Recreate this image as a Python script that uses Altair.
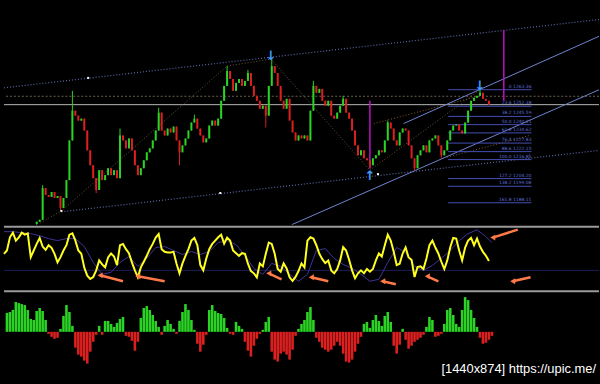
import altair as alt
import pandas as pd

# ---------------- data ----------------
# candle closes (price), first visible candle is bar 11
first_bar = 11
first_open = 1174.0
closes = [
    1175.5, 1176.8, 1197.9, 1193.3, 1192.0, 1195.3, 1191.3, 1192.6, 1184.7, 1191.3,
    1203.2, 1229.6, 1249.4, 1246.1, 1242.8, 1244.1, 1236.2, 1223.0, 1213.1, 1204.5,
    1196.6, 1209.8, 1203.2, 1206.5, 1211.1, 1206.5, 1209.8, 1204.5, 1232.9, 1229.6,
    1224.3, 1230.9, 1223.0, 1213.1, 1206.5, 1211.1, 1216.4, 1221.7, 1224.3, 1229.6,
    1236.2, 1248.1, 1236.2, 1232.9, 1237.5, 1234.9, 1238.8, 1229.6, 1221.7, 1226.3,
    1230.9, 1236.2, 1241.5, 1244.1, 1237.5, 1232.9, 1228.3, 1230.9, 1239.5, 1242.8,
    1239.5, 1244.1, 1256.0, 1265.9, 1275.8, 1270.5, 1262.6, 1267.9, 1270.5, 1265.9,
    1269.2, 1274.5, 1265.9, 1259.3, 1256.0, 1250.7, 1252.7, 1246.1, 1265.9, 1279.1,
    1274.5, 1265.9, 1256.0, 1250.7, 1257.3, 1242.8, 1234.9, 1229.6, 1232.9, 1230.9,
    1232.9, 1229.6, 1249.4, 1265.9, 1261.3, 1263.9, 1256.0, 1252.7, 1256.0, 1246.1,
    1244.1, 1248.1, 1252.7, 1257.3, 1248.1, 1244.1, 1236.2, 1226.3, 1219.7, 1223.0,
    1217.7, 1216.4, 1213.1, 1217.7, 1219.7, 1223.0, 1221.7, 1229.6, 1241.5, 1237.5,
    1229.6, 1226.3, 1234.9, 1237.5, 1236.2, 1226.3, 1217.7, 1211.1, 1219.7, 1223.0,
    1226.3, 1221.7, 1229.6, 1230.9, 1232.9, 1226.3, 1219.7, 1223.0, 1229.6, 1236.2,
    1239.5, 1240.2, 1236.2, 1234.2, 1241.5, 1249.4, 1256.0, 1258.0, 1259.3, 1261.3,
    1257.3, 1256.0, 1253.4,
]
high_marks = {2: 1199.9, 12: 1262.6, 28: 1237.5, 41: 1251.4, 53: 1246.8, 64: 1279.1,
              71: 1276.5, 79: 1283.7, 93: 1269.2, 103: 1259.3, 118: 1242.8, 149: 1263.9}
low_marks = {0: 1173.5, 8: 1182.7, 20: 1194.6, 48: 1213.1, 77: 1238.2, 112: 1211.1,
             127: 1209.8, 136: 1217.7}

bid_price = 1253.4
ask_price = 1259.0

fib_pct = ["0", "23.6", "38.2", "50.0", "61.8", "76.4", "88.6", "100.0", "127.2", "138.2", "161.8"]
fib_price = [1263.36, 1252.38, 1245.59, 1240.11, 1234.62, 1227.83, 1222.15, 1216.85,
             1204.20, 1199.08, 1188.11]
fib_from, fib_to = 149.3, 177.3

# trend / channel lines: (segment, bar, price)
channel_dotted = [("up", 0, 1264.6), ("up", 200, 1310.1),
                  ("lo", 19.3, 1182.1), ("lo", 200, 1223.0)]
channel_solid = [("b", 96.7, 1173.5), ("b", 200, 1263.3),
                 ("c", 134.3, 1240.8), ("c", 200, 1298.9)]
orange_dotted = [("a", 124.3, 1240.8), ("a", 160, 1259.3),
                 ("b", 149, 1218.4), ("b", 176.7, 1232.9)]
zigzag_t = [12.3, 19.3, 75, 89.7, 123, 160]
zigzag_p = [1174.8, 1182.7, 1279.1, 1283.7, 1209.8, 1263.3]

magenta_t = [123, 168]
magenta_lo = [1211.0, 1256.0]
magenta_hi = [1256.0, 1302.9]

arrow_t = [89.7, 160, 123]
arrow_p = [1286.0, 1265.5, 1206.0]
arrow_s = ["↓", "↓", "↑"]

dot_t = [28.3, 72.7, 19.3, 125.7]
dot_p = [1271.2, 1194.6, 1182.7, 1207.2]

# oscillator (yellow) per bar 0..163
osc = [
    55, 60, 80, 87, 75, 80, 87, 84, 86, 50,
    60, 70, 79, 66, 61, 68, 64, 55, 42, 50,
    60, 68, 84, 86, 75, 60, 55, 34, 22, 17,
    20, 30, 45, 39, 34.5, 49.5, 55.5, 51, 38, 68,
    70, 62, 56, 42, 30, 19.5, 34.5, 43, 52, 62,
    70, 79.5, 85, 62, 58, 57, 57, 58, 40, 25.5,
    40.5, 52, 62, 75, 79, 68, 38, 30, 48, 62,
    70, 75, 80, 84, 70.5, 79.5, 75, 60, 56, 52,
    56, 55, 40, 29, 25.5, 19.5, 40.5, 36, 55, 72,
    70, 55, 32, 28, 40.5, 33, 19.5, 14, 20, 29,
    40.5, 34.5, 75, 80, 78, 68, 55, 47, 41, 45,
    30, 25.5, 32, 45, 65, 60, 46, 30, 18, 25.5,
    30, 25.5, 32, 28, 32, 45, 55.5, 51, 68, 84,
    75, 58, 38, 40, 55.5, 64.5, 49.5, 46, 20, 35,
    36, 32, 48, 68, 75, 64.5, 55.5, 43, 32, 45,
    65, 79, 78, 60, 45, 64.5, 75, 79, 68, 78,
    66, 58, 52, 44,
]
# signal line (purple), every 3rd bar, last at bar 164
signal = [
    88.5, 88.5, 87, 85.5, 82.5, 78, 75, 78, 78, 66,
    42, 24, 27, 42, 51, 36, 48, 64.5, 66, 60,
    54, 58.5, 54, 58.5, 72, 75, 69, 52.5, 33, 24,
    40.5, 36, 24, 13.5, 24, 60, 63, 48, 39, 33,
    24, 13.5, 16.5, 42, 64.5, 57, 36, 30, 37.5, 48,
    60, 75, 85.5, 91.5, 81, 72,
]
signal_t = list(range(0, 163, 3)) + [164]
osc_level = 30

# orange annotation arrows (head -> tail) in oscillator units
oa_head_t = [32.3, 45, 89, 103.3, 127.3, 142.3, 164.3, 171]
oa_head_v = [22.5, 21, 25.5, 19.5, 13.5, 21, 79.5, 13.5]
oa_tail_t = [40, 54, 93.3, 109, 131.7, 146, 172.7, 177]
oa_tail_v = [13.5, 13.5, 16.5, 13.5, 9, 13.5, 91.5, 19.5]

# histogram, bars 1..164
hist = [
    19, 20, 22, 30, 29, 28, 27, 22, 13, 12,
    21, 24, 21, 12, -2, -5, -7, -6, 3, 16,
    27, 20, 6, -16, -23, -25, -29, -32, -20, -10,
    -3, 6, -3, 11, 11, 8, 5, 9, 13, 15,
    -4, -5, -9, -19, -10, 14, 24, 26, 22, 17,
    11, 5, -3, 6, 12, 8, 3, -2, 11, 20,
    28, 22, 12, 2, -12, -20, -13, -3, 22, 27,
    21, 19, 18, 14, 4, -2, -3, 10, 6, 3,
    -10, -19, -25, -14, -7, -2, 2, 10, 15, -20,
    -28, -30, -22, -20, -23, -28, -18, -4, 3, 8,
    12, 20, 25, 12, -6, -10, -16, -18, -20, -18,
    -14, -10, -14, -22, -30, -31, -28, -20, -12, -5,
    8, 10, 4, 12, 17, 11, 6, 16, 20, 10,
    -14, -22, -13, 3, -8, -17, -14, -10, -8, -6,
    -3, 5, 15, 12, -5, -4, -2, 8, 22, 24,
    17, 8, 5, 22, 35, 32, 22, 14, 5, -6,
    -12, -11, -8, -4,
]
watermark = ["[1440x874] https://upic.me/"]

# ---------------- styling ----------------
GREEN = "#2bd424"
RED = "#dc2020"
W = 600
xs = alt.Scale(domain=[0, 200], nice=False, zero=False, padding=0)
ys1 = alt.Scale(domain=[1173.5, 1322.0], nice=False, zero=False, padding=0)
ys2 = alt.Scale(domain=[0, 97.5], nice=False, zero=False, padding=0)
ys3 = alt.Scale(domain=[-52, 42], nice=False, zero=False, padding=0)
dir_color = alt.Color("d:N", scale=alt.Scale(domain=["up", "down"], range=[GREEN, RED]), legend=None)

# ---------------- frames ----------------
rows = []
prev = first_open
for i, c in enumerate(closes):
    o = prev
    hi = max(o, c, high_marks.get(i, -1e9))
    lo = min(o, c, low_marks.get(i, 1e9))
    rows.append(dict(t=first_bar + i, o=o, c=c, hi=hi, lo=lo, d="up" if c >= o else "down"))
    prev = c
candles = pd.DataFrame(rows)

def seg_df(lst):
    return pd.DataFrame(lst, columns=["s", "t", "p"])

X = lambda f="t": alt.X(f"{f}:Q", scale=xs, axis=None)

# ---------------- main panel ----------------
main_layers = [
    alt.Chart(pd.DataFrame({"p": [ask_price]})).mark_rule(color="#6e6250", strokeDash=[2, 2], strokeWidth=1)
    .encode(y=alt.Y("p:Q", scale=ys1, axis=None)),
    alt.Chart(pd.DataFrame({"p": [bid_price]})).mark_rule(color="#b8b8b8", strokeWidth=1)
    .encode(y=alt.Y("p:Q", scale=ys1, axis=None)),
    alt.Chart(seg_df(channel_dotted)).mark_line(color="#5d6aa6", strokeDash=[1, 2], strokeWidth=1.2, clip=True)
    .encode(x=X(), y=alt.Y("p:Q", scale=ys1, axis=None), detail="s:N"),
    alt.Chart(pd.DataFrame({"t": zigzag_t, "p": zigzag_p})).mark_line(color="#6a5838", strokeDash=[1, 2], strokeWidth=1, clip=True)
    .encode(x=X(), y=alt.Y("p:Q", scale=ys1, axis=None)),
    alt.Chart(seg_df(orange_dotted)).mark_line(color="#8a5a2a", strokeDash=[1, 2], strokeWidth=1, clip=True)
    .encode(x=X(), y=alt.Y("p:Q", scale=ys1, axis=None), detail="s:N"),
    alt.Chart(seg_df(channel_solid)).mark_line(color="#7086d0", strokeWidth=1, clip=True)
    .encode(x=X(), y=alt.Y("p:Q", scale=ys1, axis=None), detail="s:N"),
    alt.Chart(pd.DataFrame({"lab": fib_pct, "p": fib_price, "a": fib_from, "b": fib_to}))
    .mark_rule(color="#4450b8", strokeWidth=1)
    .encode(x=X("a"), x2="b:Q", y=alt.Y("p:Q", scale=ys1, axis=None)),
    alt.Chart(pd.DataFrame({"lab": [f"{a}  {b:.2f}" for a, b in zip(fib_pct, fib_price)], "p": fib_price, "b": fib_to}))
    .mark_text(color="#5f6fd6", fontSize=4.5, align="right", baseline="bottom", dy=-1, font="DejaVu Sans")
    .encode(x=X("b"), y=alt.Y("p:Q", scale=ys1, axis=None), text="lab:N"),
    alt.Chart(pd.DataFrame({"t": magenta_t, "lo": magenta_lo, "hi": magenta_hi}))
    .mark_rule(color="#c010c8", strokeWidth=1.5)
    .encode(x=X(), y=alt.Y("lo:Q", scale=ys1, axis=None), y2="hi:Q"),
    alt.Chart(candles).mark_rule(strokeWidth=1)
    .encode(x=X(), y=alt.Y("lo:Q", scale=ys1, axis=None), y2="hi:Q", color=dir_color),
    alt.Chart(candles).mark_bar(size=2)
    .encode(x=X(), y=alt.Y("o:Q", scale=ys1, axis=None), y2="c:Q", color=dir_color),
    alt.Chart(pd.DataFrame({"t": dot_t, "p": dot_p})).mark_point(shape="square", filled=True, size=4, color="white", opacity=1)
    .encode(x=X(), y=alt.Y("p:Q", scale=ys1, axis=None)),
    alt.Chart(pd.DataFrame({"t": arrow_t, "p": arrow_p, "s": arrow_s}))
    .mark_text(color="#3c9cff", fontSize=13, fontWeight="bold", font="DejaVu Sans")
    .encode(x=X(), y=alt.Y("p:Q", scale=ys1, axis=None), text="s:N"),
]
p1 = alt.layer(*main_layers).properties(width=W, height=225)

# ---------------- oscillator panel ----------------
one = pd.DataFrame({"k": [0]})
osc_df = pd.DataFrame({"t": list(range(len(osc))), "v": osc})
sig_df = pd.DataFrame({"t": signal_t, "v": signal})
oa_df = pd.DataFrame({"ht": oa_head_t, "hv": oa_head_v, "tt": oa_tail_t, "tv": oa_tail_v})
osc_layers = [
    alt.Chart(pd.DataFrame({"v": [osc_level]})).mark_rule(color="#1e1e58", strokeWidth=1)
    .encode(y=alt.Y("v:Q", scale=ys2, axis=None)),
    alt.Chart(sig_df).mark_line(color="#40349a", strokeWidth=1)
    .encode(x=X(), y=alt.Y("v:Q", scale=ys2, axis=None)),
    alt.Chart(osc_df).mark_line(color="#ffff20", strokeWidth=2)
    .encode(x=X(), y=alt.Y("v:Q", scale=ys2, axis=None)),
    alt.Chart(oa_df).mark_rule(color="#ff7a48", strokeWidth=2.5)
    .encode(x=X("ht"), x2="tt:Q", y=alt.Y("hv:Q", scale=ys2, axis=None), y2="tv:Q"),
    alt.Chart(oa_df).mark_point(shape="triangle-left", filled=True, size=35, color="#ff7a48", opacity=1)
    .encode(x=X("ht"), y=alt.Y("hv:Q", scale=ys2, axis=None)),
    alt.Chart(one).mark_rule(color="#9a9a9a", strokeWidth=2)
    .encode(y=alt.value(1), x=alt.value(0), x2=alt.value(W)),
]
p2 = alt.layer(*osc_layers).properties(width=W, height=65)

# ---------------- histogram panel ----------------
hist_df = pd.DataFrame({"t": [k + 1 for k in range(len(hist))], "h": hist,
                        "d": ["up" if h >= 0 else "down" for h in hist], "z": 0})
hist_layers = [
    alt.Chart(hist_df).mark_bar(size=2.6)
    .encode(x=X(), y=alt.Y("h:Q", scale=ys3, axis=None), y2="z:Q", color=dir_color),
    alt.Chart(one).mark_rule(color="#9a9a9a", strokeWidth=2)
    .encode(y=alt.value(1), x=alt.value(0), x2=alt.value(W)),
    alt.Chart(pd.DataFrame({"s": watermark})).mark_text(
        color="white", fontSize=13, font="Liberation Sans", align="right", baseline="middle")
    .encode(x=alt.value(597), y=alt.value(80), text="s:N"),
]
p3 = alt.layer(*hist_layers).properties(width=W, height=94)

chart = alt.vconcat(p1, p2, p3, spacing=0).properties(
    background="black", padding=0
).configure_view(stroke=None)

chart.save("out.html", embed_options={"renderer": "svg", "actions": False})
